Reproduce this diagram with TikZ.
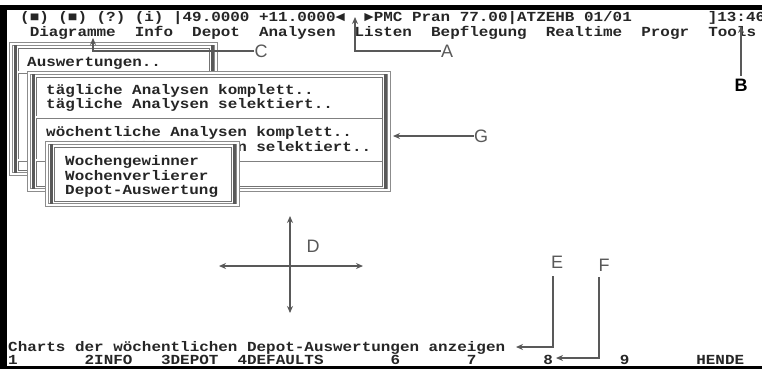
\documentclass[tikz,border=0pt]{standalone}
\usepackage{fontspec}
\usetikzlibrary{arrows.meta}
\newfontfamily\scrfont{Liberation Mono}[FakeStretch=1.15]
\newfontfamily\lblfont{Liberation Sans}
\tikzset{
 scr/.style={font=\scrfont\bfseries\fontsize{13.85}{14}\selectfont, anchor=base west, inner sep=0pt, text=black!85},
 lbl/.style={font=\lblfont\fontsize{18}{18}\selectfont, text=black!65, inner sep=0pt},
 arr/.style={draw=black!65, line width=1.3pt, -{Stealth[length=7pt,width=6pt]}},
 winouter/.style={fill=white, draw=black!45, line width=1.1pt, double=white, double distance=1.2pt},
 wininner/.style={draw=black!55, line width=0.9pt},
 winbar/.style={draw=black!65, line width=3pt},
 winsep/.style={draw=black!50, line width=0.9pt, double=white, double distance=1.2pt},
}
\newcommand\winframe[4]{%
 \draw[winouter] (#1,#2) rectangle (#3,#4);
 \draw[winbar] (#1+4,#2+1) -- (#1+4,#4-1);
 \draw[winbar] (#3-4,#2+1) -- (#3-4,#4-1);
 \draw[wininner] (#1+7,#2+4) rectangle (#3-7,#4-4);
}
\begin{document}
\begin{tikzpicture}[x=1pt,y=-1pt]
\useasboundingbox (0,0) rectangle (762,370);
\fill[white] (0,0) rectangle (762,370);
% screen border
\fill[black] (0,5) rectangle (762,10);
\fill[black] (0,5) rectangle (7,368);
\fill[black] (0,365.5) rectangle (762,368.5);

% top lines
\node[scr] (status) at (20,21) {(■)~(■)~(?)~(i)~|49.0000~+11.0000◄~~►PMC~Pran~77.00|ATZEHB~01/01};
\node[scr] (clock) at (707.6,21) {]13:46};
\node[scr] (menu) at (29.55,36) {Diagramme~~Info~~Depot~~Analysen~~Listen~~Bepflegung~~Realtime~~Progr~~Tools};

% window 1
\winframe{11}{44}{216}{174}
\draw[winsep] (18,72) -- (209,72);
\draw[winsep] (18,160) -- (209,160);
\node[scr] (w1a) at (27,66) {Auswertungen..};

% window 2
\winframe{29}{73}{389}{190}
\node[scr] (w2a) at (46,94) {tägliche~Analysen~komplett..};
\node[scr] (w2b) at (46,108) {tägliche~Analysen~selektiert..};
\draw[winsep] (36,117) -- (382,117);
\node[scr] (w2c) at (46,136) {wöchentliche~Analysen~komplett..};
\node[scr] (w2d) at (46,151) {wöchentliche~Analysen~selektiert..};
\draw[winsep] (36,160) -- (382,160);

% window 3
\winframe{47}{143}{238}{205}
\node[scr] (w3a) at (65,165) {Wochengewinner};
\node[scr] (w3b) at (65,180) {Wochenverlierer};
\node[scr] (w3c) at (65,194) {Depot-Auswertung};

% bottom lines
\node[scr] (hint) at (8,351) {Charts~der~wöchentlichen~Depot-Auswertungen~anzeigen};
\node[scr] (fkeys) at (8,364.5) {1~~~~~~~2INFO~~~3DEPOT~~4DEFAULTS~~~~~~~6~~~~~~~7~~~~~~~8~~~~~~~9~~~~~~~HENDE};

% labels and arrows
\coordinate (a0) at (355,17);
\node[lbl] (A) at (447,51) {A};
\draw[arr] (A.west) -| (a0);

\coordinate (b0) at (741,26);
\node[lbl, font=\lblfont\bfseries\fontsize{18}{18}\selectfont, text=black] (B) at (741,85) {B};
\draw[arr] ([yshift=3pt]B.north) -- (b0);

\coordinate (c0) at (93,38);
\node[lbl] (C) at (261,51) {C};
\draw[arr] (C.west) -| (c0);

\coordinate (d) at (290,266);
\coordinate (dN) at (290,216);
\coordinate (dS) at (290,313);
\coordinate (dW) at (219,266);
\coordinate (dE) at (363,266);
\node[lbl] (D) at (313,246) {D};
\draw[arr] (d) -- (dN);
\draw[arr] (d) -- (dS);
\draw[arr] (d) -- (dW);
\draw[arr] (d) -- (dE);

\coordinate (e0) at (516,347);
\node[lbl] (E) at (557,262) {E};
\draw[arr] ([xshift=-4pt,yshift=-8pt]E.south) |- (e0);

\coordinate (f0) at (556,358);
\node[lbl] (F) at (604,265) {F};
\draw[arr] ([xshift=-5pt,yshift=-6pt]F.south) |- (f0);

\coordinate (g0) at (393,137);
\node[lbl] (G) at (481,136) {G};
\draw[arr] (G.west) -- (g0 |- G.west);
\end{tikzpicture}
\end{document}
